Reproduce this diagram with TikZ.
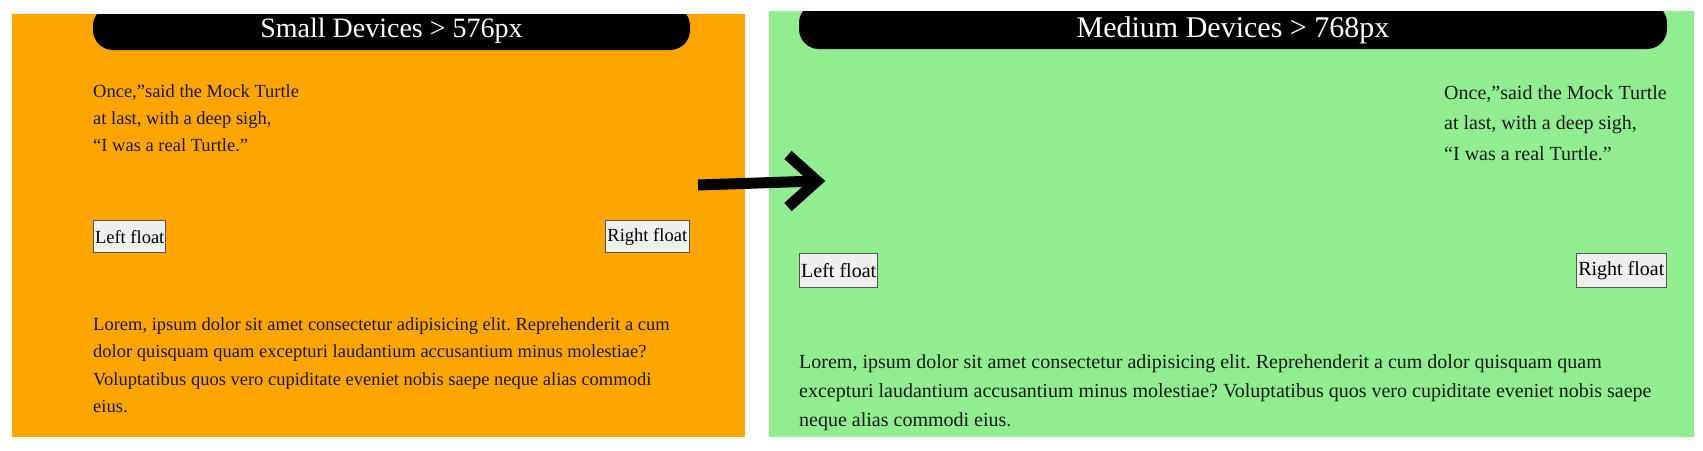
\documentclass[tikz,border=0pt]{standalone}
\usepackage{fontspec}
\setmainfont{Liberation Serif}
\definecolor{smallbg}{HTML}{FFA500}
\definecolor{mediumbg}{HTML}{90EE90}
\definecolor{btnfill}{HTML}{EFEFEF}
\definecolor{btnline}{HTML}{555555}
\tikzset{
  panel/.style={draw=none},
  pill/.style={fill=black, rounded corners=20pt},
  titletext/.style={text=white, inner sep=0pt, anchor=center},
  smalltxt/.style={font=\fontsize{18.5}{27.5}\selectfont, anchor=base west, inner sep=0pt, text=black!90},
  medtxt/.style={font=\fontsize{20}{30}\selectfont, anchor=base west, inner sep=0pt, text=black!90},
  btn/.style={draw=btnline, fill=btnfill, line width=1.4pt, inner sep=0pt, text=black},
  bigarrow/.style={line width=11pt, black}
}
\begin{document}
\frenchspacing
\begin{tikzpicture}[x=1pt, y=-1pt]
\useasboundingbox (0,0) rectangle (1703,450);
% Small panel
\fill[smallbg] (12,14) rectangle (745,437);
\begin{scope}
  \clip (12,14) rectangle (745,437);
  \fill[pill] (93,6) rectangle (690,50);
\end{scope}
\node[titletext, font=\fontsize{28}{32}\selectfont] (stitle) at (391.5,31) {Small Devices > 576px};
\node[smalltxt] (s1) at (93,97.5) {Once,”said the Mock Turtle};
\node[smalltxt] (s2) at (93,124.5) {at last, with a deep sigh,};
\node[smalltxt] (s3) at (93,151.5) {“I was a real Turtle.”};
\node[btn, font=\fontsize{18.5}{20}\selectfont, minimum width=72pt, minimum height=32pt, anchor=north west] (sleft) at (93,220) {Left float};
\node[btn, font=\fontsize{18.5}{20}\selectfont, minimum width=84pt, minimum height=32pt, anchor=north east] (sright) at (690,220) {Right float};
\node[smalltxt] (sl1) at (93,330) {Lorem, ipsum dolor sit amet consectetur adipisicing elit. Reprehenderit a cum};
\node[smalltxt] (sl2) at (93,357.5) {dolor quisquam quam excepturi laudantium accusantium minus molestiae?};
\node[smalltxt] (sl3) at (93,385) {Voluptatibus quos vero cupiditate eveniet nobis saepe neque alias commodi};
\node[smalltxt] (sl4) at (93,412.5) {eius.};
% Medium panel
\fill[mediumbg] (769,11) rectangle (1694,437);
\begin{scope}
  \clip (769,11) rectangle (1694,437);
  \fill[pill] (799,3) rectangle (1667,49);
\end{scope}
\node[titletext, font=\fontsize{30}{34}\selectfont] (mtitle) at (1233,30) {Medium Devices > 768px};
\node[medtxt] (m1) at (1444,99) {Once,”said the Mock Turtle};
\node[medtxt] (m2) at (1444,129.5) {at last, with a deep sigh,};
\node[medtxt] (m3) at (1444,160) {“I was a real Turtle.”};
\node[btn, font=\fontsize{20}{22}\selectfont, minimum width=78pt, minimum height=34pt, anchor=north west] (mleft) at (799,253) {Left float};
\node[btn, font=\fontsize{20}{22}\selectfont, minimum width=90pt, minimum height=34pt, anchor=north east] (mright) at (1667,253) {Right float};
\node[medtxt] (ml1) at (799,368) {Lorem, ipsum dolor sit amet consectetur adipisicing elit. Reprehenderit a cum dolor quisquam quam};
\node[medtxt] (ml2) at (799,397) {excepturi laudantium accusantium minus molestiae? Voluptatibus quos vero cupiditate eveniet nobis saepe};
\node[medtxt] (ml3) at (799,426) {neque alias commodi eius.};
% Arrow
\coordinate (astart) at (698,185);
\coordinate (atip) at (817,181);
\coordinate (aup) at (788,155);
\coordinate (adown) at (788,207);
\draw[bigarrow] (astart) -- (atip);
\draw[bigarrow, miter limit=3] (aup) -- (atip) -- (adown);
\end{tikzpicture}
\end{document}
